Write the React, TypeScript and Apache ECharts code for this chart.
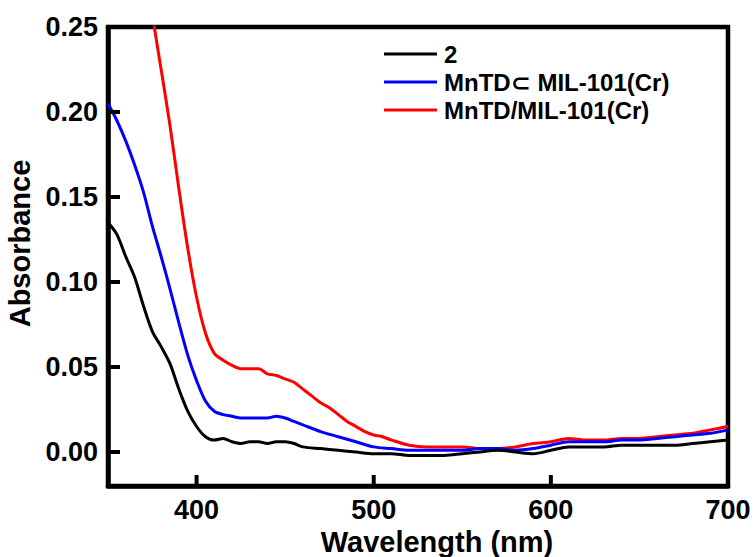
import React, { useEffect, useRef } from "react";
import * as echarts from "echarts";

const seriesNames = ["2", "MnTD\u2282 MIL-101(Cr)", "MnTD/MIL-101(Cr)"];

const blackX = [350, 355, 360, 365, 370, 375, 380, 385, 390, 395, 400, 405, 410, 415, 420, 425, 430, 435, 440, 445, 450, 455, 460, 470, 480, 490, 500, 510, 520, 530, 540, 550, 560, 570, 580, 590, 600, 610, 620, 630, 640, 650, 660, 670, 680, 690, 700];
const blackY = [0.135, 0.128, 0.115, 0.103, 0.086, 0.071, 0.062, 0.052, 0.037, 0.024, 0.015, 0.009, 0.007, 0.008, 0.006, 0.005, 0.006, 0.006, 0.005, 0.006, 0.006, 0.005, 0.003, 0.002, 0.001, 0.0, -0.001, -0.001, -0.002, -0.002, -0.002, -0.001, 0.0, 0.001, 0.0, -0.001, 0.001, 0.003, 0.003, 0.003, 0.004, 0.004, 0.004, 0.004, 0.005, 0.006, 0.007];

const blueX = [350, 355, 360, 365, 370, 375, 380, 385, 390, 395, 400, 405, 410, 415, 420, 425, 430, 435, 440, 445, 450, 455, 460, 470, 480, 490, 500, 510, 520, 530, 540, 550, 560, 570, 580, 590, 600, 610, 620, 630, 640, 650, 660, 670, 680, 690, 700];
const blueY = [0.205, 0.195, 0.183, 0.169, 0.153, 0.133, 0.115, 0.096, 0.076, 0.057, 0.042, 0.030, 0.024, 0.022, 0.021, 0.020, 0.020, 0.020, 0.020, 0.021, 0.020, 0.018, 0.016, 0.012, 0.009, 0.006, 0.003, 0.002, 0.001, 0.001, 0.001, 0.001, 0.002, 0.002, 0.001, 0.002, 0.004, 0.006, 0.006, 0.006, 0.007, 0.007, 0.008, 0.009, 0.010, 0.011, 0.013];

const redX = [370, 375, 380, 385, 390, 395, 400, 405, 410, 415, 420, 425, 430, 435, 440, 445, 450, 455, 460, 465, 470, 475, 480, 485, 490, 495, 500, 505, 510, 520, 530, 540, 550, 560, 570, 580, 590, 600, 610, 620, 630, 640, 650, 660, 670, 680, 690, 700];
const redY = [0.30, 0.258, 0.225, 0.192, 0.155, 0.120, 0.091, 0.070, 0.058, 0.054, 0.051, 0.049, 0.049, 0.049, 0.046, 0.045, 0.043, 0.041, 0.037, 0.033, 0.029, 0.026, 0.022, 0.018, 0.015, 0.012, 0.010, 0.009, 0.007, 0.004, 0.003, 0.003, 0.003, 0.002, 0.002, 0.003, 0.005, 0.006, 0.008, 0.007, 0.007, 0.008, 0.008, 0.009, 0.010, 0.011, 0.013, 0.015];

const xTicks = [400, 500, 600, 700];
const yTicks = [0, 0.05, 0.1, 0.15, 0.2, 0.25];
const X_MIN = 350;
const X_MAX = 700;
const Y_MIN = -0.02;
const Y_MAX = 0.25;

const colors = ["#000000", "#0000ff", "#ff0000"];
const FONT = "'Liberation Sans', Arial, 'DejaVu Sans', sans-serif";

function pairs(xs: number[], ys: number[]) {
  return xs.map((x, i) => [x, ys[i]]);
}

export default function App() {
  const ref = useRef<HTMLDivElement>(null);
  useEffect(() => {
    if (!ref.current) return;
    const chart = echarts.init(ref.current, undefined, { renderer: "svg" });
    const allData = [pairs(blackX, blackY), pairs(blueX, blueY), pairs(redX, redY)];
    const lineStyle = { width: 4.5, color: "#000" };

    const xTickPts = xTicks.filter((v) => v < X_MAX).map((v) => [v, Y_MIN]);
    const yTickPts = yTicks.filter((v) => v < Y_MAX).map((v) => [X_MIN, v]);

    const lineSeries = seriesNames.map((name, i) => ({
      name,
      type: "line",
      data: allData[i],
      symbol: "none",
      smooth: 0.3,
      clip: true,
      lineStyle: { color: colors[i], width: 3 },
      itemStyle: { color: colors[i] },
      z: 3 - i,
    }));

    const tickSeries = [
      {
        name: "xTicks",
        type: "scatter",
        data: xTickPts,
        symbol: "rect",
        symbolSize: [4, 11],
        symbolOffset: [0, -5.5],
        clip: false,
        silent: true,
        itemStyle: { color: "#000", opacity: 1 },
        z: 10,
      },
      {
        name: "yTicks",
        type: "scatter",
        data: yTickPts,
        symbol: "rect",
        symbolSize: [12, 4],
        symbolOffset: [6, 0],
        clip: false,
        silent: true,
        itemStyle: { color: "#000", opacity: 1 },
        z: 10,
      },
    ];

    chart.setOption({
      animation: false,
      backgroundColor: "#ffffff",
      grid: {
        left: 108,
        right: 28,
        top: 27,
        bottom: 71,
        containLabel: false,
        outerBoundsMode: "none",
        show: true,
        borderColor: "#000",
        borderWidth: 4.5,
        backgroundColor: "transparent",
      },
      legend: {
        orient: "vertical",
        left: 379,
        top: 37,
        icon: "rect",
        itemWidth: 53,
        itemHeight: 3,
        itemGap: 4,
        data: seriesNames,
        textStyle: { fontFamily: FONT, fontWeight: "bold", fontSize: 24, color: "#000", padding: [0, 0, 0, 2] },
      },
      xAxis: {
        type: "value",
        min: X_MIN,
        max: X_MAX,
        name: "Wavelength (nm)",
        nameLocation: "middle",
        nameGap: 38,
        nameTextStyle: { fontFamily: FONT, fontWeight: "bold", fontSize: 29, color: "#000", padding: [0, 0, 0, 38] },
        axisLine: { show: true, onZero: false, lineStyle },
        splitLine: { show: false },
        axisTick: { show: false },
        axisLabel: {
          show: true,
          customValues: xTicks,
          fontFamily: FONT,
          fontWeight: "bold",
          fontSize: 27,
          color: "#000",
          margin: 10,
        },
      },
      yAxis: {
        type: "value",
        min: Y_MIN,
        max: Y_MAX,
        name: "Absorbance",
        nameLocation: "middle",
        nameGap: 63,
        nameTextStyle: { fontFamily: FONT, fontWeight: "bold", fontSize: 29, color: "#000", padding: [0, 0, 0, 26] },
        axisLine: { show: true, onZero: false, lineStyle },
        splitLine: { show: false },
        axisTick: { show: false },
        axisLabel: {
          show: true,
          customValues: yTicks,
          fontFamily: FONT,
          fontWeight: "bold",
          fontSize: 27,
          color: "#000",
          margin: 10,
          formatter: (v: number) => v.toFixed(2),
        },
      },
      series: [...lineSeries, ...tickSeries],
    });

    return () => chart.dispose();
  }, []);
  return (
    <div
      ref={ref}
      style={{ position: "absolute", left: 0, top: 0, width: 756, height: 557 }}
    />
  );
}
